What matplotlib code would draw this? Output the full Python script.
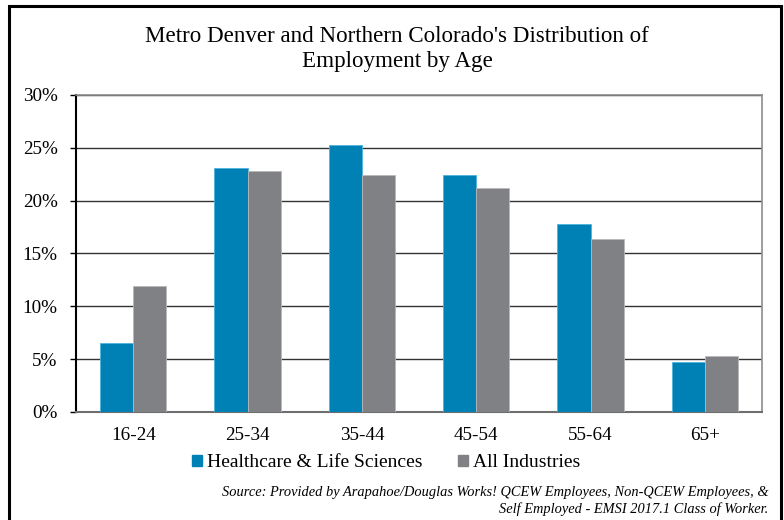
import matplotlib
matplotlib.use("Agg")
import matplotlib.pyplot as plt
from matplotlib.patches import Rectangle
from matplotlib.ticker import FuncFormatter
import numpy as np

categories = ["16-24", "25-34", "35-44", "45-54", "55-64", "65+"]
healthcare = [6.5, 23.1, 25.3, 22.4, 17.8, 4.7]
all_industries = [11.9, 22.8, 22.4, 21.2, 16.4, 5.3]
series_names = ["Healthcare & Life Sciences", "All Industries"]
yticks = [0, 5, 10, 15, 20, 25, 30]

blue = "#0081B5"
gray = "#808184"

plt.rcParams['font.family'] = ['Liberation Serif', 'DejaVu Serif']

fig = plt.figure(figsize=(7.84, 5.2), dpi=100)
W, H = 784, 520
ax = fig.add_axes([76 / W, 1 - 412 / H, (762 - 76) / W, (412 - 95) / H])

x = np.arange(len(categories))
bw = 0.289
ax.bar(x - bw / 2, healthcare, bw, color=blue, edgecolor="#4fb3dd", linewidth=0.6, label=series_names[0], zorder=3)
ax.bar(x + bw / 2, all_industries, bw, color=gray, edgecolor="#b8b8ba", linewidth=0.6, label=series_names[1], zorder=3)

ax.set_xlim(-0.5, len(categories) - 0.5)
ax.set_ylim(0, 30)
ax.set_yticks(yticks)
ax.yaxis.set_major_formatter(FuncFormatter(lambda v, p: f"{int(v)}%"))
ax.set_xticks(x)
ax.set_xticklabels(categories)
ax.tick_params(axis="x", length=0, pad=11, labelsize=13.8)
ax.tick_params(axis="y", length=4.3, width=1, color="black", labelsize=13.8, pad=9)
ax.grid(axis="y", color="#333333", linewidth=1, zorder=0)
ax.set_axisbelow(True)
for s in ["top", "right"]:
    ax.spines[s].set_color("#8c8c8c")
    ax.spines[s].set_linewidth(1.2)
ax.spines["bottom"].set_color("#6e6e6e")
ax.spines["bottom"].set_linewidth(1.5)
ax.spines["left"].set_color("black")
ax.spines["left"].set_linewidth(1.5)

fig.text(397 / W, 1 - 49 / H, "Metro Denver and Northern Colorado's Distribution of\nEmployment by Age",
         ha="center", va="center", fontsize=16.6, linespacing=1.2)

handles = [Rectangle((0, 0), 1, 1, color=blue), Rectangle((0, 0), 1, 1, color=gray)]
fig.legend(handles, series_names, loc="center", bbox_to_anchor=(386 / W, 1 - 463 / H),
           ncol=2, frameon=False, fontsize=14, handlelength=0.55, handleheight=0.55,
           handletextpad=0.25, columnspacing=1.8)

fig.text(768 / W, 1 - 501 / H,
         "Source: Provided by Arapahoe/Douglas Works! QCEW Employees, Non-QCEW Employees, &\n"
         "Self Employed - EMSI 2017.1 Class of Worker.",
         ha="right", va="center", fontsize=10.4, style="italic", linespacing=1.25)

border = Rectangle((9 / W, -0.05), (781 - 9) / W, (1 - 6 / H) + 0.05, transform=fig.transFigure,
                   fill=False, edgecolor="black", linewidth=2.2)
fig.patches.append(border)

fig.savefig("out.png", dpi=100)
